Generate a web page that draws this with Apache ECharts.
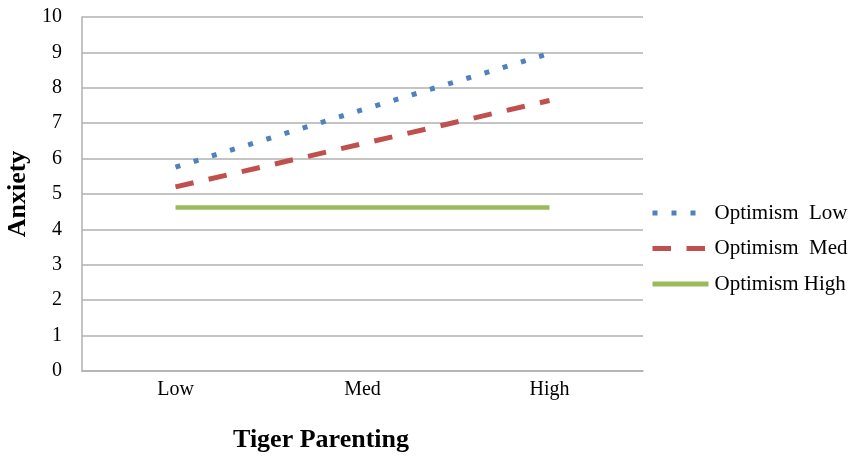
<!DOCTYPE html>
<html><head><meta charset="utf-8">
<script src="https://cdn.jsdelivr.net/npm/echarts@6/dist/echarts.min.js"></script>
<style>html,body{margin:0;padding:0;background:#fff}#c{width:851px;height:459px}</style>
</head><body><div id="c"></div>
<script>
const categories = ['Low', 'Med', 'High'];
const optLow = [5.76, 7.38, 8.97];
const optMed = [5.2, 6.42, 7.64];
const optHigh = [4.62, 4.62, 4.62];
const seriesNames = ['Optimism  Low', 'Optimism  Med', 'Optimism High'];
const yTicks = [0, 10, 1];

const font = '"Liberation Serif", "Times New Roman", serif';
const chart = echarts.init(document.getElementById('c'), null, {renderer: 'canvas'});
chart.setOption({
  animation: false,
  backgroundColor: '#fff',
  grid: {left: 82, right: 208, top: 17, bottom: 88, containLabel: false, outerBoundsMode: 'none'},
  xAxis: {
    type: 'category', data: categories, boundaryGap: true,
    name: 'Tiger Parenting', nameLocation: 'middle', nameGap: 56,
    nameTextStyle: {fontFamily: font, fontWeight: 'bold', fontSize: 26, color: '#000', padding: [0, 83, 0, 0]},
    axisLine: {lineStyle: {color: '#b0b0b0', width: 1.5}},
    axisTick: {show: false},
    axisLabel: {fontFamily: font, fontSize: 20, color: '#000', margin: 9}
  },
  yAxis: {
    type: 'value', min: yTicks[0], max: yTicks[1], interval: yTicks[2],
    name: 'Anxiety', nameLocation: 'middle', nameGap: 51, nameRotate: 90,
    nameTextStyle: {fontFamily: font, fontWeight: 'bold', fontSize: 26, color: '#000'},
    axisLine: {show: true, lineStyle: {color: '#b0b0b0', width: 1.5}},
    axisTick: {show: false},
    splitLine: {lineStyle: {color: '#b0b0b0', width: 1.5}},
    axisLabel: {fontFamily: font, fontSize: 20, color: '#000', margin: 20}
  },
  legend: {
    orient: 'vertical', left: 645, top: 196, itemGap: 11.5,
    itemWidth: 56, itemHeight: 14,
    itemStyle: {opacity: 0},
    lineStyle: {width: 5, type: 'inherit', cap: 'butt'},
    textStyle: {fontFamily: font, fontSize: 21, color: '#000', lineHeight: 24, padding: [0, 0, 0, 1]},
    data: seriesNames
  },
  series: [
    {name: seriesNames[0], type: 'line', data: optLow, symbol: 'none', color: '#4F81BD',
     lineStyle: {color: '#4F81BD', width: 5, type: [5, 14], cap: 'butt'}},
    {name: seriesNames[1], type: 'line', data: optMed, symbol: 'none', color: '#C0504D',
     lineStyle: {color: '#C0504D', width: 5, type: [18.5, 15.5], cap: 'butt'}},
    {name: seriesNames[2], type: 'line', data: optHigh, symbol: 'none', color: '#9BBB59',
     lineStyle: {color: '#9BBB59', width: 4.5, type: 'solid'}}
  ]
});
</script></body></html>
